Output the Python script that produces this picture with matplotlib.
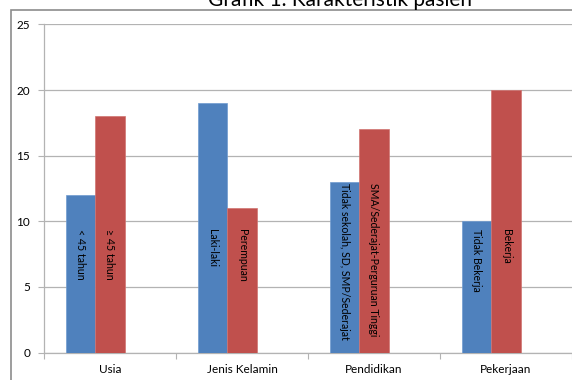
import matplotlib.pyplot as plt
from matplotlib.patches import Rectangle

plt.rcParams['font.family'] = ['Lato', 'DejaVu Sans']

# data
categories = ['Usia', 'Jenis Kelamin', 'Pendidikan', 'Pekerjaan']
series1 = [12, 19, 13, 10]
series2 = [18, 11, 17, 20]
labels1 = ['< 45 tahun', 'Laki-laki', 'Tidak sekolah, SD, SMP/Sederajat', 'Tidak Bekerja']
labels2 = ['\u2265 45 tahun', 'Perempuan', 'SMA/Sederajat-Perguruan Tinggi', 'Bekerja']
# where the rotated labels start (axis units), as Excel placed them
label_top = [9.45, 9.45, 12.95, 9.45]

blue = '#4f81bd'
red = '#c0504d'
grid = '#b3b3b3'

fig = plt.figure(figsize=(5.72, 3.8), dpi=100)
W, H = 572, 380

# chart area border (Excel style)
fig.patches.append(Rectangle((11 / W, -0.1), 1.2, (380 - 9.5) / H + 0.1,
                             transform=fig.transFigure, fill=False,
                             edgecolor='#8c8c8c', linewidth=1.2))

# title, cut off at the top
fig.text(340 / W, 1 - 6 / H, 'Grafik 1. Karakteristik pasien', ha='center',
         va='baseline', fontsize=15)

ax = fig.add_axes([44 / W, (380 - 352.5) / H, 528 / W, (352.5 - 24.5) / H])

x = range(len(categories))
w = 1 / 4.5
ax.bar([i - w for i in x], series1, width=w, color=blue, edgecolor='#6f9bd0',
       linewidth=0.5, zorder=3)
ax.bar([i for i in x], series2, width=w, color=red, edgecolor='#d07471',
       linewidth=0.5, zorder=3)

for i in x:
    ax.text(i - w, label_top[i], labels1[i], rotation=270, ha='center',
            va='top', fontsize=7.6, color='black', zorder=4)
    ax.text(i, label_top[i], labels2[i], rotation=270, ha='center',
            va='top', fontsize=7.6, color='black', zorder=4)

ax.set_xlim(-0.5, 3.5)
ax.set_ylim(0, 25)
ax.set_yticks([0, 5, 10, 15, 20, 25])
ax.yaxis.grid(True, color=grid, linewidth=0.9, zorder=0)

ax.set_xticks([i + 0.5 for i in range(-1, 4)], minor=False)
ax.set_xticklabels([])
ax.set_xticks(list(x), minor=True)
ax.set_xticklabels(categories, minor=True, fontsize=8.5)
ax.tick_params(axis='x', which='minor', length=0, pad=8)
ax.tick_params(axis='x', which='major', length=4, color=grid, direction='out')
ax.tick_params(axis='y', length=4, color=grid, labelsize=8.5, pad=6)

for s in ['top', 'right']:
    ax.spines[s].set_visible(False)
for s in ['left', 'bottom']:
    ax.spines[s].set_color(grid)
    ax.spines[s].set_linewidth(0.9)

fig.savefig('out.png', dpi=100)
